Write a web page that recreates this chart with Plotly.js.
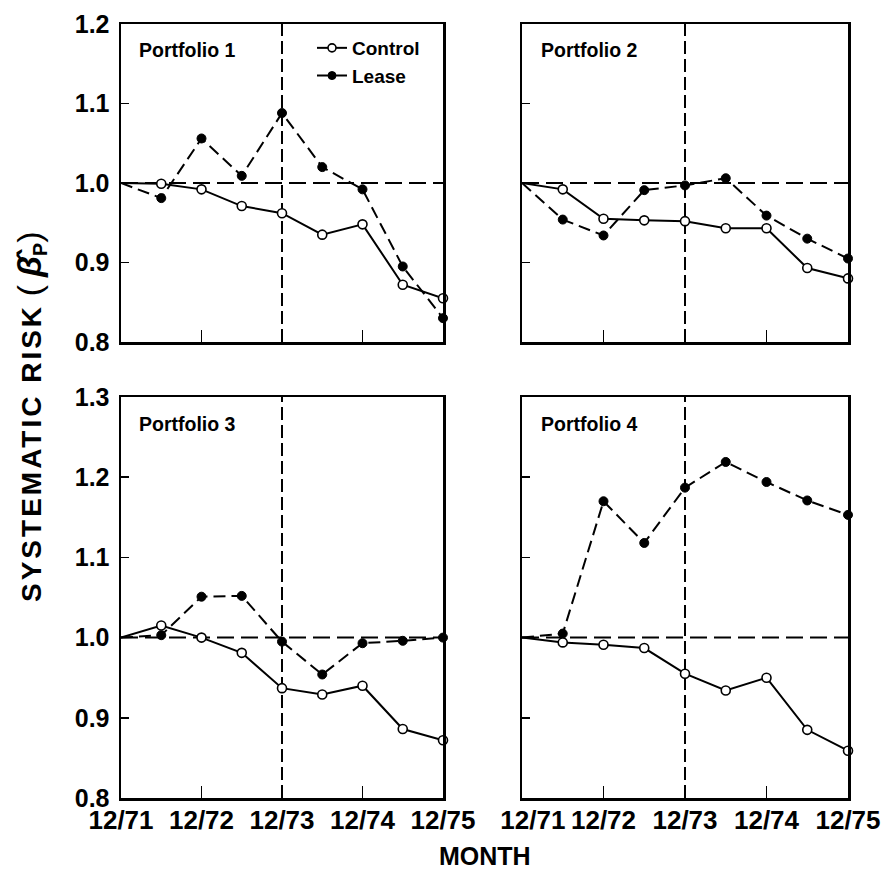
<!DOCTYPE html>
<html>
<head>
<meta charset="utf-8">
<script src="https://cdn.plot.ly/plotly-3.0.1.min.js"></script>
<style>html,body{margin:0;padding:0;background:#fff;}#chart{width:885px;height:869px;}</style>
</head>
<body>
<div id="chart"></div>
<script>
// Half-year periods since 12/71 (0 = 12/71, 8 = 12/75)
const periods = [0, 1, 2, 3, 4, 5, 6, 7, 8];
const tickPositions = [0, 2, 4, 6, 8];
const tickLabels = ['12/71', '12/72', '12/73', '12/74', '12/75'];
const eventPeriod = 4; // 12/73

const control1 = [1.000, 0.999, 0.992, 0.971, 0.962, 0.935, 0.948, 0.872, 0.855];
const lease1   = [1.000, 0.981, 1.056, 1.009, 1.088, 1.020, 0.992, 0.895, 0.830];
const control2 = [1.000, 0.992, 0.955, 0.953, 0.952, 0.943, 0.943, 0.893, 0.880];
const lease2   = [1.000, 0.954, 0.934, 0.991, 0.997, 1.006, 0.959, 0.930, 0.905];
const control3 = [1.000, 1.015, 1.000, 0.981, 0.937, 0.929, 0.940, 0.886, 0.872];
const lease3   = [1.000, 1.003, 1.051, 1.052, 0.995, 0.954, 0.993, 0.996, 1.000];
const control4 = [1.000, 0.994, 0.991, 0.987, 0.955, 0.934, 0.950, 0.885, 0.859];
const lease4   = [1.000, 1.005, 1.170, 1.118, 1.187, 1.219, 1.194, 1.171, 1.153];

const panelNames = ['Portfolio 1', 'Portfolio 2', 'Portfolio 3', 'Portfolio 4'];
const controlSeries = [control1, control2, control3, control4];
const leaseSeries = [lease1, lease2, lease3, lease4];

const FONT = 'Liberation Sans, Arial, Helvetica, sans-serif';
const W = 885, H = 869;

// marker sizes: no marker at the starting point
const mSize = periods.map((p, i) => i === 0 ? 0 : 9);

const traces = [];
for (let i = 0; i < 4; i++) {
  const ax = i === 0 ? '' : String(i + 1);
  traces.push({
    x: periods, y: leaseSeries[i], xaxis: 'x' + ax, yaxis: 'y' + ax,
    type: 'scatter', mode: 'lines+markers', name: 'Lease',
    legendrank: 2, showlegend: i === 0, cliponaxis: false,
    line: {color: '#000', width: 2, dash: '12px,6px'},
    marker: {symbol: 'circle', size: mSize, opacity: 1, color: '#000', line: {color: '#000', width: 1}}
  });
  traces.push({
    x: periods, y: controlSeries[i], xaxis: 'x' + ax, yaxis: 'y' + ax,
    type: 'scatter', mode: 'lines+markers', name: 'Control',
    legendrank: 1, showlegend: i === 0, cliponaxis: false,
    line: {color: '#000', width: 2},
    marker: {symbol: 'circle', size: mSize, opacity: 1, color: '#fff', line: {color: '#000', width: 1.6}}
  });
}

const colDom = [[121 / W, 443 / W], [522 / W, 848 / W]];
const rowDom = [[1 - 342 / H, 1 - 24 / H], [1 - 798 / H, 1 - 397 / H]];
const yRanges = [[0.8, 1.2], [0.8, 1.3]];
const yTicks = [[0.8, 0.9, 1.0, 1.1, 1.2], [0.8, 0.9, 1.0, 1.1, 1.2, 1.3]];

const yTickFont = {family: FONT, size: 25, color: '#000', weight: 700};
const xTickFont = {family: FONT, size: 26, color: '#000', weight: 700};

const layout = {
  width: W, height: H,
  margin: {l: 0, r: 0, t: 0, b: 0},
  paper_bgcolor: '#fff', plot_bgcolor: '#fff',
  showlegend: true,
  legend: {
    x: 312 / W, y: 1 - 29 / H, xanchor: 'left', yanchor: 'top',
    font: {family: FONT, size: 19, color: '#000', weight: 700},
    bgcolor: 'rgba(0,0,0,0)', borderwidth: 0, tracegroupgap: 0, itemwidth: 30
  },
  shapes: [],
  annotations: []
};

for (let i = 0; i < 4; i++) {
  const row = Math.floor(i / 2), col = i % 2;
  const ax = i === 0 ? '' : String(i + 1);
  layout['xaxis' + ax] = {
    domain: colDom[col], anchor: 'y' + ax, range: [0, 8],
    tickmode: 'array', tickvals: tickPositions,
    ticktext: tickLabels.map((t, k) => (col === 1 && k === 0) ? '\u00A0\u00A0\u00A0' + t : t),
    ticks: 'inside', ticklen: 12, tickwidth: 1.5, tickcolor: '#000',
    showticklabels: row === 1, tickfont: xTickFont, ticklabelstandoff: -3,
    showline: true, mirror: true, linewidth: 2.5, linecolor: '#000',
    showgrid: false, zeroline: false, fixedrange: true
  };
  layout['yaxis' + ax] = {
    domain: rowDom[row], anchor: 'x' + ax, range: yRanges[row],
    tickmode: 'array', tickvals: yTicks[row], tickformat: '.1f',
    ticks: 'inside', ticklen: 8, tickwidth: 1.5, tickcolor: '#000',
    showticklabels: col === 0, tickfont: yTickFont, ticklabelstandoff: 4,
    showline: true, mirror: true, linewidth: 2.5, linecolor: '#000',
    showgrid: false, zeroline: false, fixedrange: true
  };
  // horizontal reference at 1.0
  layout.shapes.push({
    type: 'line', layer: 'below', xref: 'x' + ax + ' domain', yref: 'y' + ax,
    x0: 0, x1: 1, y0: 1.0, y1: 1.0,
    line: {color: '#000', width: 2, dash: '17px,7px'}
  });
  // vertical event line at 12/73
  layout.shapes.push({
    type: 'line', layer: 'below', xref: 'x' + ax, yref: 'y' + ax + ' domain',
    x0: eventPeriod, x1: eventPeriod, y0: 0, y1: 1,
    line: {color: '#000', width: 2, dash: '13px,5px'}
  });
  // panel title
  layout.annotations.push({
    text: panelNames[i], showarrow: false,
    xref: 'x' + ax + ' domain', yref: 'y' + ax + ' domain',
    x: col === 0 ? 0.050 : 0.052, y: row === 0 ? (342 - 50) / 318 : (798 - 424) / 401,
    xanchor: 'left', yanchor: 'middle',
    font: {family: FONT, size: 19.5, color: '#000', weight: 700}
  });
}

layout.annotations.push({
  text: 'MONTH', showarrow: false, xref: 'paper', yref: 'paper',
  x: 485 / W, y: 1 - 856 / H, xanchor: 'center', yanchor: 'middle',
  font: {family: FONT, size: 25, color: '#000', weight: 700}
});
layout.annotations.push({
  text: '<span style="letter-spacing:3px">SYSTEMATIC RISK</span> <span style="font-size:34px;font-weight:normal">(</span> <i><span style="font-size:34px">\u03B2\u0302</span></i><sub>P</sub><span style="font-size:34px;font-weight:normal">)</span>',
  showarrow: false,
  xref: 'paper', yref: 'paper', textangle: -90,
  x: 31 / W, y: 1 - 417 / H, xanchor: 'center', yanchor: 'middle',
  font: {family: FONT, size: 28, color: '#000', weight: 700}
});

Plotly.newPlot('chart', traces, layout, {displayModeBar: false, staticPlot: true});
</script>
</body>
</html>
